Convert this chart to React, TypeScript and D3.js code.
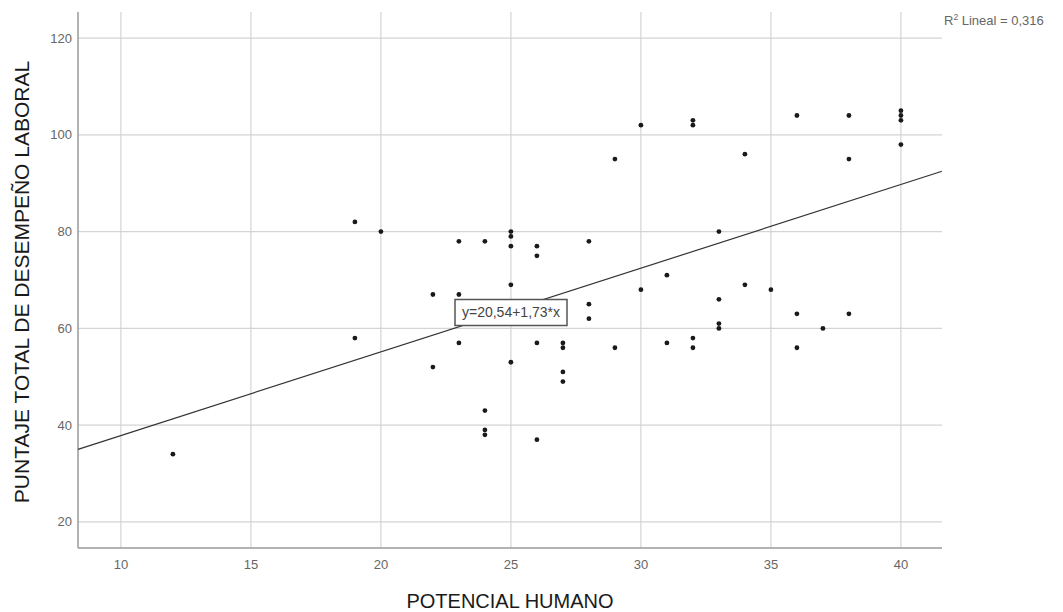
import React from "react";
import * as d3 from "d3";

// Data (x = POTENCIAL HUMANO, y = PUNTAJE TOTAL)
const potencial: number[] = [
  12, 19, 19, 20, 22, 22, 23, 23, 23, 23, 24, 24, 24, 24,
  25, 25, 25, 25, 25, 25, 26, 26, 26, 26, 27, 27, 27, 27,
  28, 28, 28, 29, 29, 30, 30, 31, 31, 32, 32, 32, 32,
  33, 33, 33, 33, 34, 34, 35, 36, 36, 36, 37, 38, 38, 38,
  40, 40, 40, 40,
];
const desempeno: number[] = [
  34, 82, 58, 80, 67, 52, 78, 67, 61, 57, 78, 43, 39, 38,
  80, 79, 77, 69, 61, 53, 77, 75, 57, 37, 57, 56, 51, 49,
  78, 65, 62, 95, 56, 102, 68, 71, 57, 103, 102, 58, 56,
  80, 66, 61, 60, 96, 69, 68, 104, 63, 56, 60, 104, 95, 63,
  105, 104, 103, 98,
];
const xTicks: number[] = [10, 15, 20, 25, 30, 35, 40];
const yTicks: number[] = [20, 40, 60, 80, 100, 120];
const intercept = 20.54;
const slope = 1.73;
const fitLabel = "y=20,54+1,73*x";
const r2Label = "Lineal = 0,316";
const xTitle = "POTENCIAL HUMANO";
const yTitle = "PUNTAJE TOTAL DE DESEMPEÑO LABORAL";

const W = 1063;
const H = 612;
const plot = { left: 78, right: 942, top: 12, bottom: 548 };
const FONT = "'Liberation Sans', Arial, sans-serif";

export default function App() {
  const x = d3.scaleLinear().domain([8.35, 41.58]).range([plot.left, plot.right]);
  const y = d3.scaleLinear().domain([14.6, 125.4]).range([plot.bottom, plot.top]);
  const [x0, x1] = x.domain();
  const line = d3.line<number>().x((d) => x(d)).y((d) => y(intercept + slope * d));
  const points = potencial.map((v, i) => ({ px: v, py: desempeno[i] }));

  const boxCx = 511;
  const boxCy = 312.5;
  const boxW = 112;
  const boxH = 26;

  return (
    <svg
      width={W}
      height={H}
      style={{ position: "absolute", left: 0, top: 0, display: "block", background: "#fff" }}
      fontFamily={FONT}
    >
      {/* grid */}
      <g stroke="#d4d4d4" strokeWidth={1.2}>
        {yTicks.map((t) => (
          <line key={"gy" + t} x1={plot.left} x2={plot.right} y1={y(t)} y2={y(t)} />
        ))}
        {xTicks.map((t) => (
          <line key={"gx" + t} x1={x(t)} x2={x(t)} y1={plot.top} y2={plot.bottom} />
        ))}
      </g>
      {/* axes */}
      <g stroke="#9a9a9a" strokeWidth={1.5}>
        <line x1={plot.left} x2={plot.left} y1={plot.top} y2={plot.bottom} />
        <line x1={plot.left} x2={plot.right} y1={plot.bottom} y2={plot.bottom} />
      </g>
      {/* tick labels */}
      <g fontSize={13}>
        {yTicks.map((t) => (
          <text key={"ty" + t} x={72} y={y(t)} dy="0.35em" textAnchor="end" fill="#666666">
            {t}
          </text>
        ))}
        {xTicks.map((t) => (
          <text key={"tx" + t} x={x(t)} y={564} dy="0.35em" textAnchor="middle" fill="#666666">
            {t}
          </text>
        ))}
      </g>
      {/* regression line */}
      <path d={line([x0, x1]) || ""} fill="none" stroke="#333" strokeWidth={1.2} />
      {/* points */}
      <g fill="#1a1a1a">
        {points.map((p, i) => (
          <circle key={i} cx={x(p.px)} cy={y(p.py)} r={2.4} />
        ))}
      </g>
      {/* fit label */}
      <rect
        x={boxCx - boxW / 2}
        y={boxCy - boxH / 2}
        width={boxW}
        height={boxH}
        fill="#fff"
        stroke="#555"
        strokeWidth={1.5}
      />
      <text x={boxCx} y={boxCy} dy="0.35em" textAnchor="middle" fontSize={14} fill="#444">
        {fitLabel}
      </text>
      {/* R2 */}
      <text x={944} y={20} dy="0.35em" fontSize={13} fill="#666">
        R<tspan dy="-5" fontSize={8.5}>2</tspan>
        <tspan dy="5">{" " + r2Label}</tspan>
      </text>
      {/* axis titles */}
      <text x={510} y={601} dy="0.35em" textAnchor="middle" fontSize={20} fill="#1a1a1a">
        {xTitle}
      </text>
      <text
        transform={`translate(22,${282}) rotate(-90)`}
        dy="0.35em"
        textAnchor="middle"
        fontSize={21}
        fill="#1a1a1a"
      >
        {yTitle}
      </text>
    </svg>
  );
}
